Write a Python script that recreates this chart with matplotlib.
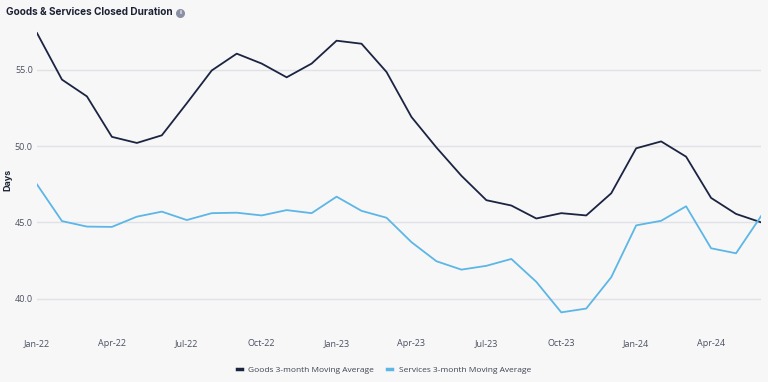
import matplotlib.pyplot as plt
from matplotlib.lines import Line2D

months = ["Jan-22", "Feb-22", "Mar-22", "Apr-22", "May-22", "Jun-22", "Jul-22", "Aug-22",
          "Sep-22", "Oct-22", "Nov-22", "Dec-22", "Jan-23", "Feb-23", "Mar-23", "Apr-23",
          "May-23", "Jun-23", "Jul-23", "Aug-23", "Sep-23", "Oct-23", "Nov-23", "Dec-23",
          "Jan-24", "Feb-24", "Mar-24", "Apr-24", "May-24", "Jun-24"]
goods = [57.4, 54.35, 53.25, 50.6, 50.2, 50.7, 52.8, 54.95, 56.05, 55.4, 54.5, 55.4,
         56.9, 56.7, 54.85, 51.9, 49.9, 48.05, 46.45, 46.1, 45.25, 45.6, 45.45, 46.9,
         49.85, 50.3, 49.3, 46.6, 45.55, 45.0]
services = [47.48, 45.08, 44.72, 44.7, 45.37, 45.7, 45.15, 45.6, 45.63, 45.45, 45.8, 45.6,
            46.68, 45.75, 45.3, 43.7, 42.45, 41.9, 42.15, 42.6, 41.1, 39.1, 39.35, 41.4,
            44.8, 45.1, 46.05, 43.3, 42.97, 45.4]
yticks = [40.0, 45.0, 50.0, 55.0]

bg = "#f7f7f8"
navy = "#1b2440"
blue = "#5cb6e6"
tick_col = "#4b5060"

fig = plt.figure(figsize=(7.68, 3.82), dpi=100, facecolor=bg)
ax = fig.add_axes([37 / 768, 1 - 320 / 382, 724 / 768, 290 / 382], facecolor=bg)

x = list(range(len(months)))
ax.plot(x, goods, color=navy, lw=1.3, zorder=3)
ax.plot(x, services, color=blue, lw=1.3, zorder=3)

ax.set_xlim(0, len(months) - 1)
ax.set_ylim(38.6, 57.6)
ax.set_yticks(yticks)
ax.set_yticklabels([f"{v:.1f}" for v in yticks], fontsize=6.5, color=tick_col, family="Open Sans")
ax.set_xticks(x[::3])
ax.set_xticklabels(months[::3], fontsize=6.5, color=tick_col, family="Open Sans")
ax.tick_params(axis="both", length=0)
ax.tick_params(axis="x", pad=14)
ax.tick_params(axis="y", pad=3)
ax.grid(axis="y", color="#e1e2e6", lw=1)
ax.set_axisbelow(True)
for s in ax.spines.values():
    s.set_visible(False)

fig.text(8 / 768, 1 - 180 / 382, "Days", rotation=90, fontsize=6.5, fontweight="bold",
         color="#1c2233", ha="center", va="center", family="Inter")
fig.text(6 / 768, 1 - 12 / 382, "Goods & Services Closed Duration", fontsize=7.2,
         fontweight="bold", color="#1c2233", ha="left", va="center", family="Inter")
# info icon
fig.add_artist(Line2D([180 / 768], [1 - 12.5 / 382], marker="o", markersize=5.5,
                      color="#8a8fa3", transform=fig.transFigure))
fig.text(180 / 768, 1 - 12.5 / 382, "i", fontsize=4, fontweight="bold", color="white",
         ha="center", va="center")

handles = [Line2D([], [], color=navy, lw=2.5), Line2D([], [], color=blue, lw=2.5)]
fig.legend(handles, ["Goods 3-month Moving Average", "Services 3-month Moving Average"],
           loc="center", bbox_to_anchor=(0.5, 1 - 370 / 382), ncol=2, frameon=False,
           handlelength=0.6, handletextpad=0.8, columnspacing=1.6,
           prop={"family": "Open Sans", "size": 6.0}, labelcolor="#3f4452")

fig.savefig("out.png", dpi=100, facecolor=bg)
